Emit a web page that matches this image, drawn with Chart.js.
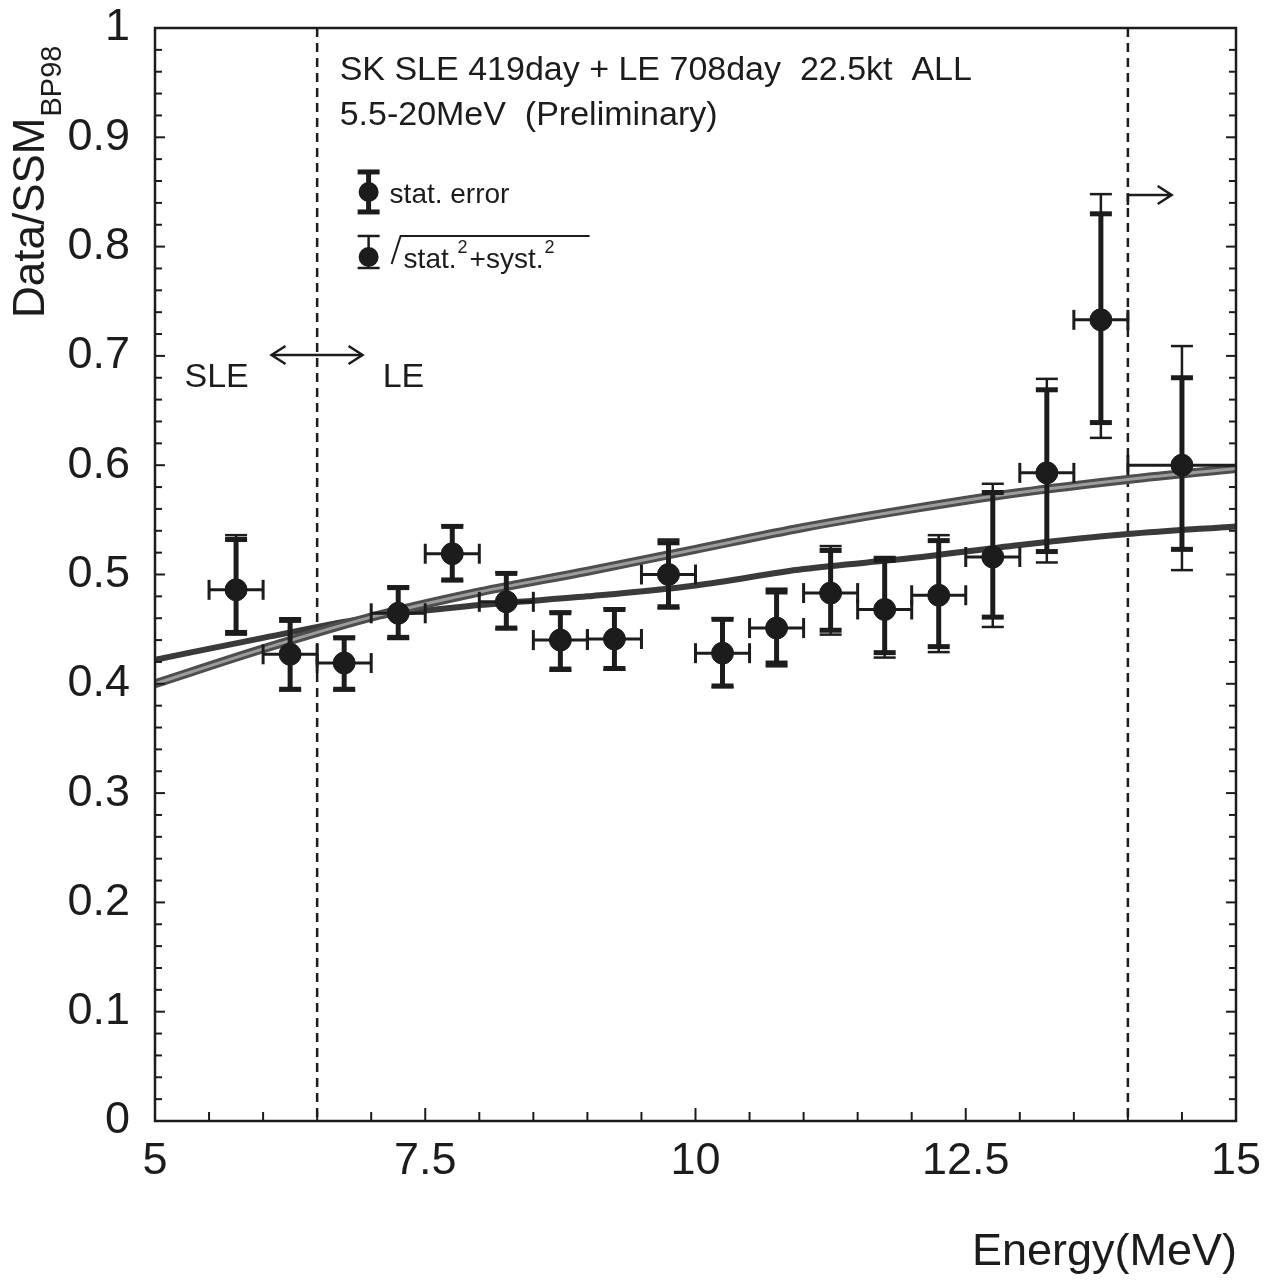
<!DOCTYPE html>
<html>
<head>
<meta charset="utf-8">
<script src="https://cdn.jsdelivr.net/npm/chart.js@4.4.1/dist/chart.umd.min.js"></script>
<style>
  html, body { margin: 0; padding: 0; background: #fff; }
</style>
</head>
<body>
<canvas id="c" width="1273" height="1280"></canvas>
<script>
// energy bins (MeV)
const binCenter = [5.75, 6.25, 6.75, 7.25, 7.75, 8.25, 8.75, 9.25, 9.75, 10.25, 10.75, 11.25, 11.75, 12.25, 12.75, 13.25, 13.75, 14.5];
const binLow    = [5.5, 6.0, 6.5, 7.0, 7.5, 8.0, 8.5, 9.0, 9.5, 10.0, 10.5, 11.0, 11.5, 12.0, 12.5, 13.0, 13.5, 14.0];
const binHigh   = [6.0, 6.5, 7.0, 7.5, 8.0, 8.5, 9.0, 9.5, 10.0, 10.5, 11.0, 11.5, 12.0, 12.5, 13.0, 13.5, 14.0, 15.0];
// Data/SSM ratio and errors
const ratio    = [0.486, 0.427, 0.419, 0.4645, 0.519, 0.475, 0.440, 0.441, 0.500, 0.428, 0.451, 0.483, 0.468, 0.481, 0.516, 0.593, 0.733, 0.600];
const statLow  = [0.447, 0.395, 0.395, 0.4425, 0.495, 0.451, 0.4135, 0.414, 0.4705, 0.398, 0.419, 0.449, 0.4285, 0.434, 0.461, 0.521, 0.639, 0.523];
const statHigh = [0.532, 0.458, 0.442, 0.488, 0.544, 0.501, 0.465, 0.468, 0.529, 0.459, 0.484, 0.522, 0.513, 0.531, 0.575, 0.669, 0.830, 0.680];
const totLow   = [0.445, 0.394, 0.394, 0.441, 0.494, 0.450, 0.412, 0.413, 0.469, 0.397, 0.416, 0.445, 0.424, 0.429, 0.452, 0.511, 0.625, 0.504];
const totHigh  = [0.536, 0.460, 0.443, 0.489, 0.545, 0.502, 0.466, 0.469, 0.532, 0.460, 0.487, 0.526, 0.516, 0.536, 0.583, 0.679, 0.848, 0.709];
// expected curves
const curveE = [5, 6, 7, 8, 9, 10, 11, 12, 13, 14, 15];
const curveA = [0.422, 0.442, 0.461, 0.472, 0.480, 0.490, 0.505, 0.515, 0.527, 0.537, 0.544];
const curveB = [0.400, 0.432, 0.461, 0.484, 0.503, 0.523, 0.543, 0.560, 0.575, 0.587, 0.597];
// SLE/LE and upper boundaries
const boundaries = [6.5, 14.0];
const xTickLabels = ['5', '7.5', '10', '12.5', '15'];
const yTickLabels = ['0', '0.1', '0.2', '0.3', '0.4', '0.5', '0.6', '0.7', '0.8', '0.9', '1'];

const ink = '#1c1c1c';
const FONT = "'Liberation Sans', Arial, Helvetica, sans-serif";

function seg(ctx, x1, y1, x2, y2) {
  ctx.beginPath(); ctx.moveTo(x1, y1); ctx.lineTo(x2, y2); ctx.stroke();
}

// dashed boundaries behind the data
const boundaryLines = {
  id: 'boundaryLines',
  beforeDatasetsDraw(chart) {
    const { ctx, chartArea: a, scales: { x } } = chart;
    ctx.save();
    ctx.strokeStyle = ink;
    ctx.lineWidth = 2.5;
    ctx.setLineDash([9, 6]);
    boundaries.forEach(e => {
      const px = x.getPixelForValue(e);
      seg(ctx, px, a.top, px, a.bottom);
    });
    ctx.restore();
  }
};

function drawBar(ctx, x, y, yLo, yHi, capW, lw) {
  const lo = y.getPixelForValue(yLo), hi = y.getPixelForValue(yHi);
  ctx.lineWidth = lw;
  seg(ctx, x, lo, x, hi);
  seg(ctx, x - capW / 2, lo, x + capW / 2, lo);
  seg(ctx, x - capW / 2, hi, x + capW / 2, hi);
}

const errorBars = {
  id: 'errorBars',
  afterDatasetsDraw(chart) {
    const { ctx, scales: { x, y } } = chart;
    ctx.save();
    ctx.strokeStyle = ink;
    ctx.lineCap = 'butt';
    binCenter.forEach((e, i) => {
      const px = x.getPixelForValue(e);
      const py = y.getPixelForValue(ratio[i]);
      const xl = x.getPixelForValue(binLow[i]), xh = x.getPixelForValue(binHigh[i]);
      ctx.lineWidth = 3;
      seg(ctx, xl, py, xh, py);
      seg(ctx, xl, py - 10, xl, py + 10);
      if (binHigh[i] < 15) seg(ctx, xh, py - 10, xh, py + 10);
      drawBar(ctx, px, y, totLow[i], totHigh[i], 22, 2.5);
      drawBar(ctx, px, y, statLow[i], statHigh[i], 22, 5);
    });
    ctx.restore();
  }
};

// frame, inward ticks, texts
const decorations = {
  id: 'decorations',
  afterDraw(chart) {
    const { ctx, chartArea: a, scales: { x, y } } = chart;
    ctx.save();
    ctx.strokeStyle = ink;
    ctx.fillStyle = ink;
    ctx.lineWidth = 2.5;
    ctx.strokeRect(a.left, a.top, a.right - a.left, a.bottom - a.top);
    ctx.lineWidth = 2;
    x.ticks.forEach(t => {
      const px = x.getPixelForValue(t.value);
      const len = t.label ? 13 : 9;
      seg(ctx, px, a.bottom, px, a.bottom - len);
    });
    y.ticks.forEach(t => {
      const py = y.getPixelForValue(t.value);
      const len = t.label ? 10 : 7;
      seg(ctx, a.left, py, a.left + len, py);
      seg(ctx, a.right, py, a.right - len, py);
    });

    // header text
    ctx.font = '34px ' + FONT;
    ctx.textBaseline = 'alphabetic';
    ctx.textAlign = 'left';
    ctx.fillText('SK SLE 419day + LE 708day  22.5kt  ALL', x.getPixelForValue(6.708), y.getPixelForValue(0.9524));
    ctx.fillText('5.5-20MeV  (Preliminary)', x.getPixelForValue(6.708), y.getPixelForValue(0.9113));

    // legend
    const lx = x.getPixelForValue(6.976);
    const ly1 = y.getPixelForValue(0.850), ly2 = y.getPixelForValue(0.7905);
    ctx.lineWidth = 5;
    seg(ctx, lx, ly1 - 20, lx, ly1 + 20);
    seg(ctx, lx - 11, ly1 - 20, lx + 11, ly1 - 20);
    seg(ctx, lx - 11, ly1 + 20, lx + 11, ly1 + 20);
    ctx.beginPath(); ctx.arc(lx, ly1, 10, 0, Math.PI * 2); ctx.fill();
    ctx.lineWidth = 2.5;
    seg(ctx, lx, ly2 - 21, lx, ly2 + 11);
    seg(ctx, lx - 11, ly2 - 21, lx + 11, ly2 - 21);
    seg(ctx, lx - 11, ly2 + 11, lx + 11, ly2 + 11);
    ctx.beginPath(); ctx.arc(lx, ly2, 10, 0, Math.PI * 2); ctx.fill();
    ctx.font = '28px ' + FONT;
    ctx.fillText('stat. error', lx + 21, ly1 + 11);
    // sqrt(stat^2 + syst^2)
    const sx = lx + 23, sb = ly2 + 11;
    ctx.lineWidth = 2;
    ctx.beginPath();
    ctx.moveTo(sx, sb - 4);
    ctx.lineTo(sx + 9, ly2 - 21);
    ctx.lineTo(x.getPixelForValue(9.02), ly2 - 21);
    ctx.stroke();
    let tx = sx + 12;
    const parts = [['stat.', 0], ['2', 1], ['+syst.', 0], ['2', 1]];
    parts.forEach(([s, sup]) => {
      ctx.font = (sup ? '18px ' : '28px ') + FONT;
      ctx.fillText(s, tx, sup ? sb - 15 : sb);
      tx += ctx.measureText(s).width + (sup ? 2 : 1);
    });

    // SLE <-> LE
    ctx.font = '34px ' + FONT;
    ctx.fillText('SLE', x.getPixelForValue(5.273), y.getPixelForValue(0.6715));
    ctx.fillText('LE', x.getPixelForValue(7.106), y.getPixelForValue(0.6715));
    const ay = y.getPixelForValue(0.7008);
    const ax1 = x.getPixelForValue(6.078), ax2 = x.getPixelForValue(6.92);
    ctx.lineWidth = 2.5;
    seg(ctx, ax1, ay, ax2, ay);
    ctx.beginPath();
    ctx.moveTo(ax1 + 14, ay - 9); ctx.lineTo(ax1, ay); ctx.lineTo(ax1 + 14, ay + 9);
    ctx.moveTo(ax2 - 14, ay - 9); ctx.lineTo(ax2, ay); ctx.lineTo(ax2 - 14, ay + 9);
    ctx.stroke();
    // arrow beyond 14 MeV
    const ry = y.getPixelForValue(0.8472);
    const rx1 = x.getPixelForValue(14.0), rx2 = x.getPixelForValue(14.405);
    ctx.beginPath();
    ctx.moveTo(rx1, ry + 10); ctx.lineTo(rx1, ry); ctx.lineTo(rx2, ry);
    ctx.moveTo(rx2 - 14, ry - 9); ctx.lineTo(rx2, ry); ctx.lineTo(rx2 - 14, ry + 9);
    ctx.stroke();

    // axis titles
    ctx.font = '45px ' + FONT;
    ctx.textAlign = 'right';
    ctx.fillText('Energy(MeV)', a.right + 1, 1265);
    ctx.save();
    ctx.translate(44, 318);
    ctx.rotate(-Math.PI / 2);
    ctx.textAlign = 'left';
    ctx.font = '44px ' + FONT;
    ctx.fillText('Data/SSM', 0, 0);
    const w = ctx.measureText('Data/SSM').width;
    ctx.font = '29px ' + FONT;
    ctx.fillText('BP98', w + 1, 17);
    ctx.restore();
    ctx.restore();
  }
};

new Chart(document.getElementById('c'), {
  type: 'scatter',
  data: {
    datasets: [
      {
        label: 'Data/SSM',
        data: binCenter.map((e, i) => ({ x: e, y: ratio[i] })),
        backgroundColor: ink,
        borderColor: ink,
        pointRadius: 11,
        pointHoverRadius: 11,
        order: 0
      },
      {
        label: 'curve A',
        data: curveE.map((e, i) => ({ x: e, y: curveA[i] })),
        showLine: true,
        borderColor: '#3a3a3a',
        borderWidth: 6,
        pointRadius: 0,
        cubicInterpolationMode: 'monotone',
        order: 3
      },
      {
        label: 'curve B',
        data: curveE.map((e, i) => ({ x: e, y: curveB[i] })),
        showLine: true,
        borderColor: '#4e4e4e',
        borderWidth: 9,
        pointRadius: 0,
        cubicInterpolationMode: 'monotone',
        order: 2
      },
      {
        label: 'curve B core',
        data: curveE.map((e, i) => ({ x: e, y: curveB[i] })),
        showLine: true,
        borderColor: '#9c9c9c',
        borderWidth: 3,
        pointRadius: 0,
        cubicInterpolationMode: 'monotone',
        order: 1
      }
    ]
  },
  options: {
    responsive: false,
    animation: false,
    events: [],
    layout: { padding: { top: 28, right: 37, left: 0, bottom: 0 } },
    plugins: { legend: { display: false }, tooltip: { enabled: false } },
    scales: {
      x: {
        type: 'linear',
        min: 5, max: 15,
        grid: { display: false, drawTicks: false },
        border: { display: false },
        afterFit(s) { s.height = 159; s.paddingLeft = 0; s.paddingRight = 0; },
        ticks: {
          stepSize: 0.5,
          autoSkip: false,
          maxRotation: 0,
          padding: 14,
          color: ink,
          font: { family: FONT, size: 45 },
          callback(v) {
            const s = String(Math.round(v * 10) / 10);
            return xTickLabels.includes(s) ? s : '';
          }
        }
      },
      y: {
        type: 'linear',
        min: 0, max: 1,
        grid: { display: false, drawTicks: false },
        border: { display: false },
        afterFit(s) { s.width = 155; s.paddingTop = 0; s.paddingBottom = 0; },
        ticks: {
          stepSize: 0.02,
          autoSkip: false,
          padding: 25,
          color: ink,
          font: { family: FONT, size: 45 },
          callback(v) {
            const k = Math.round(v * 100);
            const s = String(k / 100);
            return (k % 10 === 0 && yTickLabels.includes(s)) ? s : '';
          }
        }
      }
    }
  },
  plugins: [boundaryLines, errorBars, decorations]
});
</script>
</body>
</html>
